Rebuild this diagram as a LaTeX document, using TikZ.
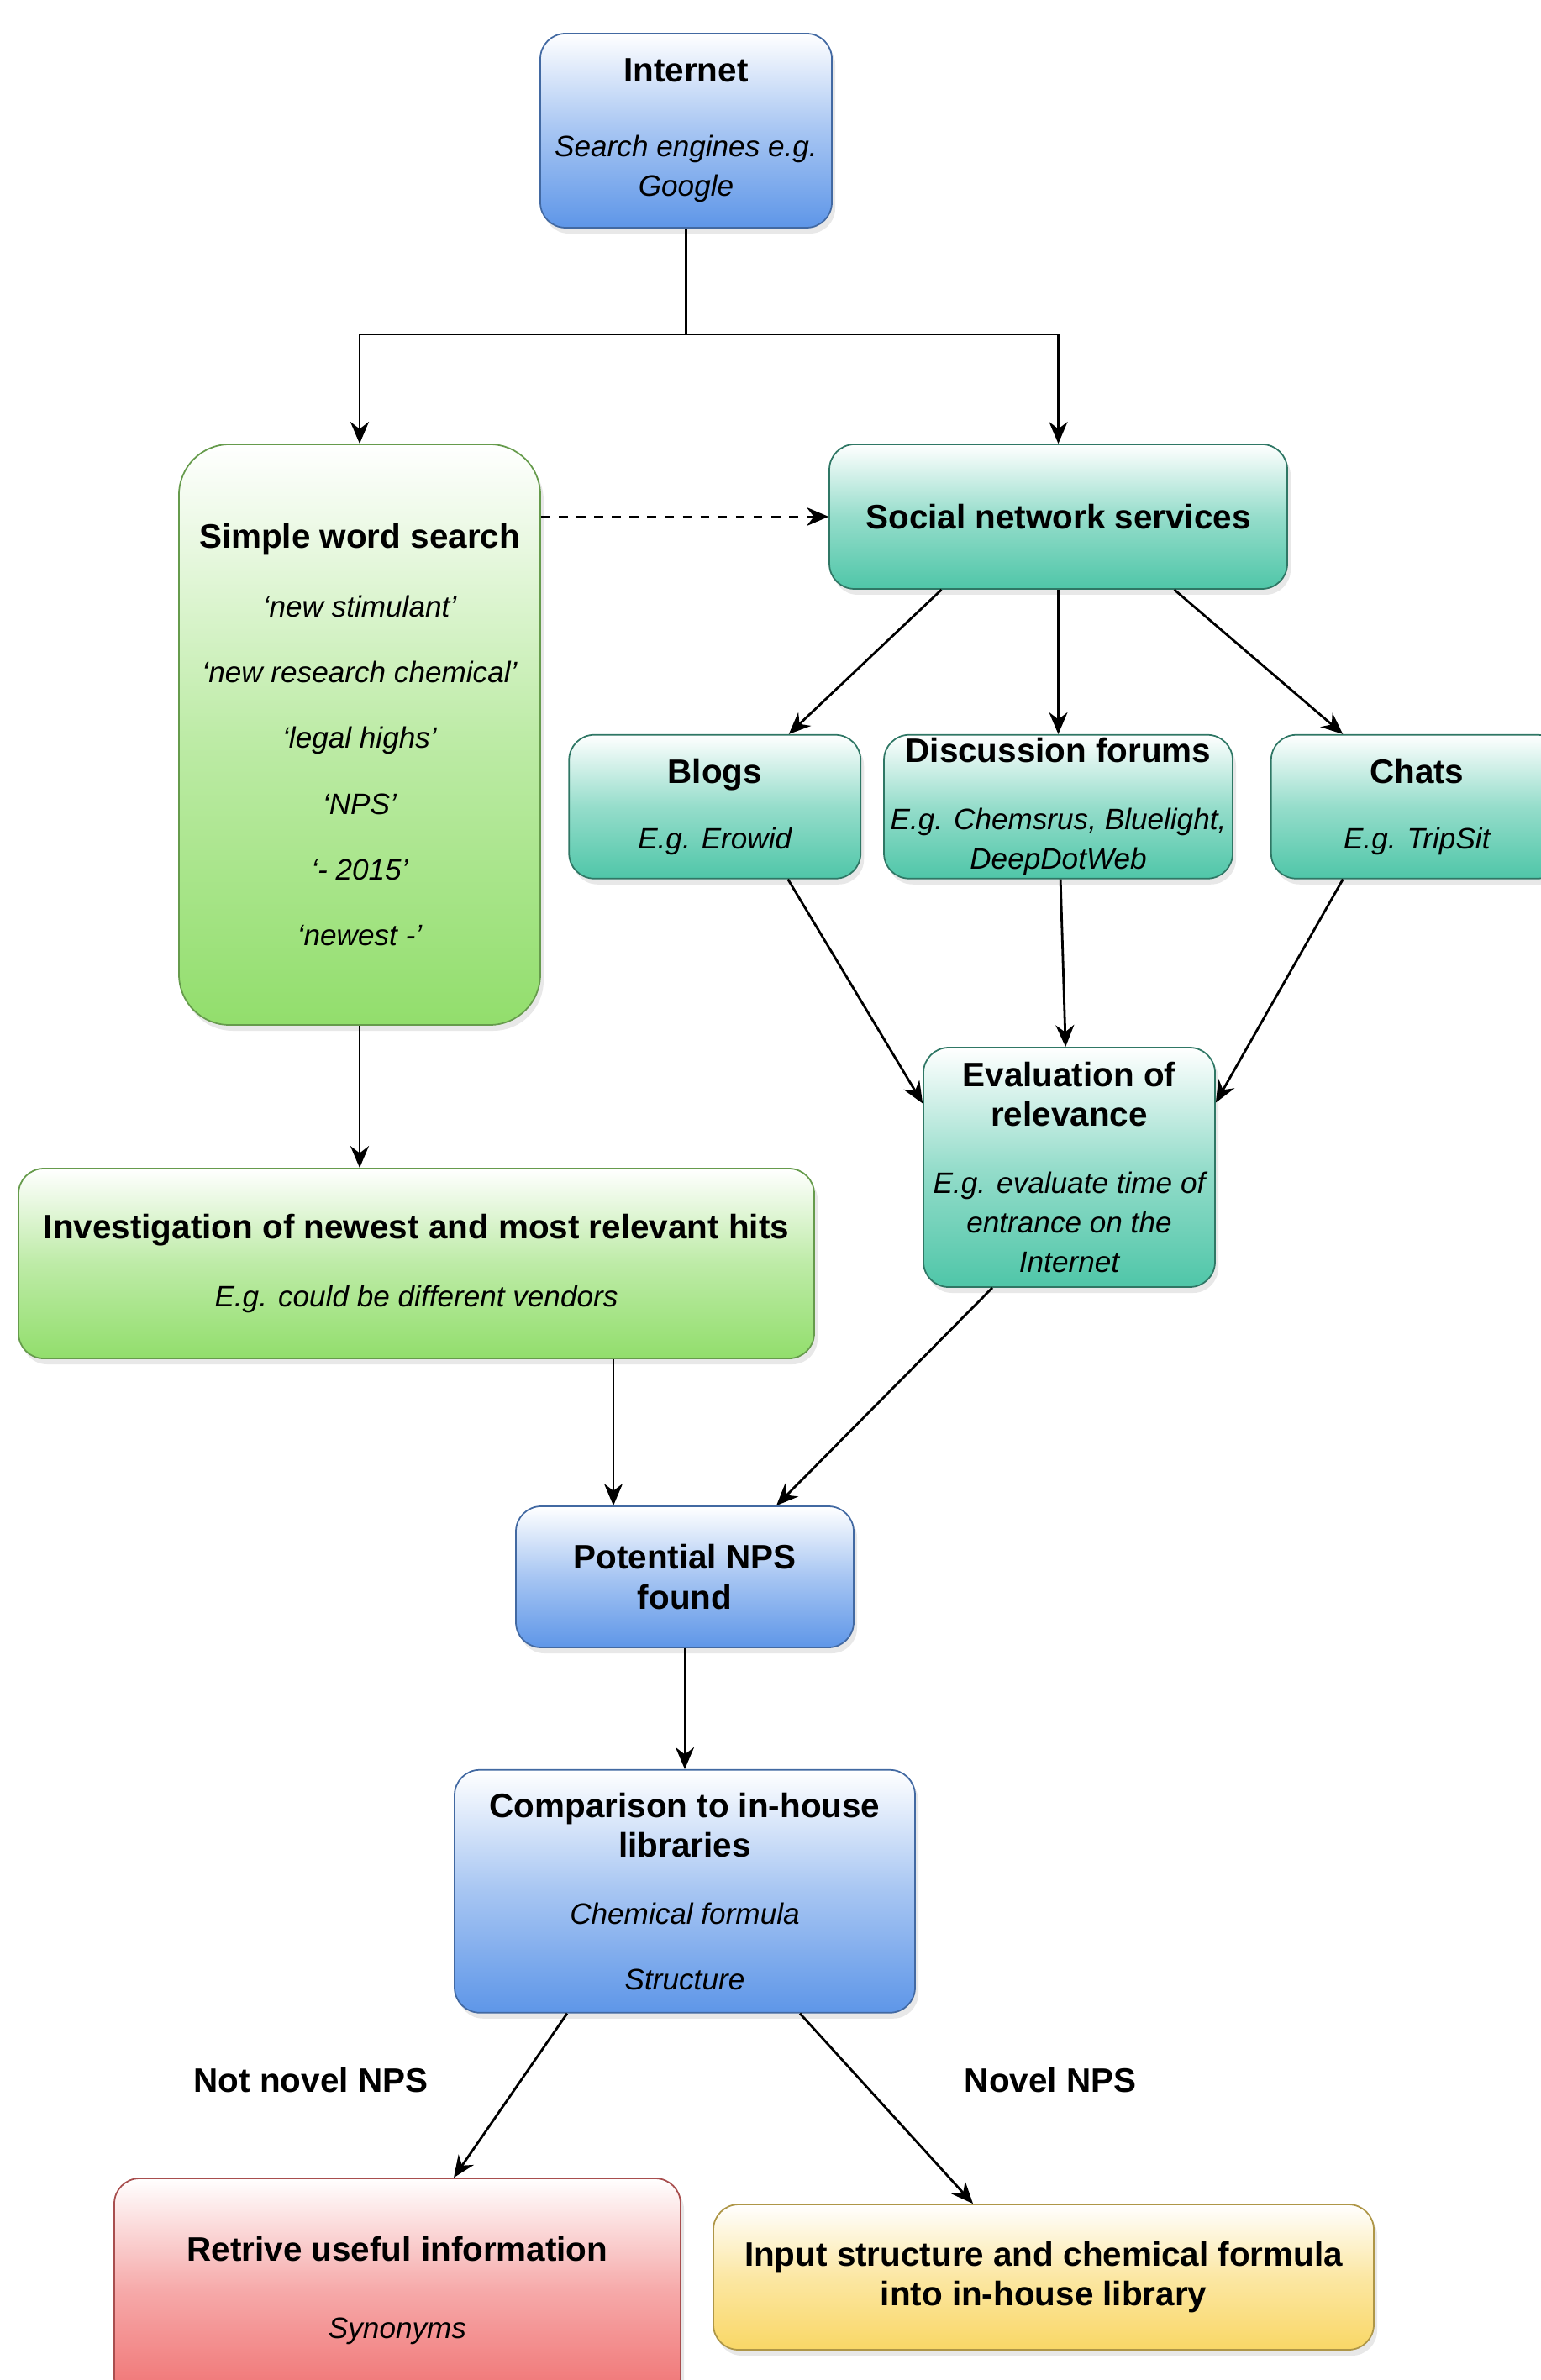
\documentclass[tikz,border=0pt]{standalone}
\usepackage{fontspec}
\setmainfont{Liberation Sans}
\usetikzlibrary{arrows, arrows.meta, positioning, shadows}

\definecolor{boxblue}{HTML}{5E96E8}
\definecolor{boxgreen}{HTML}{92DE6C}
\definecolor{boxteal}{HTML}{4FC6A8}
\definecolor{boxred}{HTML}{F07070}
\definecolor{boxyellow}{HTML}{F9D766}

\newcommand{\titlefont}{\fontsize{11.5}{13.4}\selectfont\bfseries}
\newcommand{\notefont}{\fontsize{10}{13.4}\selectfont\mdseries\itshape}

\begin{document}
\begin{tikzpicture}[
  box/.style={rectangle, rounded corners=0.3cm, text centered, align=center, inner sep=1pt, font=\titlefont, line width=0.5pt, drop shadow={opacity=0.18, shadow xshift=0.04cm, shadow yshift=-0.07cm}},
  bluebox/.style={box, draw=boxblue!70!black, top color=white, bottom color=boxblue, middle color=boxblue!55},
  greenbox/.style={box, draw=boxgreen!70!black, top color=white, bottom color=boxgreen, middle color=boxgreen!60},
  tealbox/.style={box, draw=boxteal!60!black, top color=white, bottom color=boxteal, middle color=boxteal!60},
  redbox/.style={box, draw=boxred!70!black, top color=white, bottom color=boxred, middle color=boxred!60},
  yellowbox/.style={box, draw=boxyellow!70!black, top color=white, bottom color=boxyellow, middle color=boxyellow!60},
  arrow/.style={thick,->,>={Stealth[length=2.6mm, width=2.2mm]}}]

  \useasboundingbox (0,0) rectangle (18.34,-28.33);
  \clip (0,0) rectangle (18.34,-28.33);

  % Nodes
  \node (internet) [bluebox, minimum width=3.47cm, minimum height=2.31cm] at (8.165,-1.555) {Internet \\[0.42cm] {\notefont Search engines e.g.} \\ {\notefont Google}};
  \node (simple) [greenbox, rounded corners=0.6cm, minimum width=4.30cm, minimum height=6.91cm] at (4.28,-8.745) {Simple word search \\[0.35cm] {\notefont `new stimulant'} \\[0.31cm] {\notefont `new research chemical'} \\[0.31cm] {\notefont `legal highs'} \\[0.31cm] {\notefont `NPS'} \\[0.31cm] {\notefont `- 2015'} \\[0.31cm] {\notefont `newest -'}};
  \node (social) [tealbox, minimum width=5.45cm, minimum height=1.72cm] at (12.595,-6.15) {Social network services};

  \node (forums) [tealbox, below=1.72cm of social, minimum width=4.15cm, minimum height=1.71cm] {Discussion forums \\[0.33cm] {\notefont E.g. Chemsrus, Bluelight,} \\ {\notefont DeepDotWeb}};
  \node (blogs) [tealbox, left=0.26cm of forums, minimum width=3.47cm, minimum height=1.71cm] {Blogs \\[0.31cm] {\notefont E.g. Erowid}};
  \node (chats) [tealbox, right=0.44cm of forums, minimum width=3.47cm, minimum height=1.71cm] {Chats \\[0.31cm] {\notefont E.g. TripSit}};
  \node (eval) [tealbox, minimum width=3.47cm, minimum height=2.85cm] at (12.725,-13.895) {Evaluation of \\ relevance \\[0.33cm] {\notefont E.g. evaluate time of} \\ {\notefont entrance on the} \\ {\notefont Internet}};

  \node (invest) [greenbox, minimum width=9.47cm, minimum height=2.26cm] at (4.955,-15.04) {Investigation of newest and most relevant hits \\[0.33cm] {\notefont E.g. could be different vendors}};
  \node (potential) [bluebox, minimum width=4.02cm, minimum height=1.68cm] at (8.15,-18.77) {Potential NPS \\ found};
  \node (compare) [bluebox, below=1.44cm of potential, minimum width=5.48cm, minimum height=2.89cm] {Comparison to in-house \\ libraries \\[0.33cm] {\notefont Chemical formula} \\[0.31cm] {\notefont Structure}};

  \node (notnovel) [font=\titlefont] at (3.70,-24.76) {Not novel NPS};
  \node (novel) [font=\titlefont] at (12.50,-24.76) {Novel NPS};

  \node (retrieve) [redbox, minimum width=6.74cm, minimum height=2.67cm] at (4.73,-27.265) {Retrive useful information \\[0.44cm] {\notefont Synonyms}};
  \node (input) [yellowbox, minimum width=7.86cm, minimum height=1.73cm] at (12.42,-27.105) {Input structure and chemical formula \\ into in-house library};

  % Arrows
  \coordinate (split) at (8.165,-3.98);
  \draw [thick] (internet) -- (split);
  \draw [arrow] (split) -| (simple);
  \draw [arrow] (split) -| (social);
  \draw [arrow, dashed] (simple.east |- social.west) -- (social.west);

  \draw [arrow] ([xshift=-1.39cm]social.south) -- ([xshift=0.88cm]blogs.north);
  \draw [arrow] (social) -- (forums);
  \draw [arrow] ([xshift=1.38cm]social.south) -- ([xshift=-0.88cm]chats.north);

  \draw [arrow] ([xshift=0.87cm]blogs.south) -- ([yshift=0.76cm]eval.west);
  \draw [arrow] (forums) -- (eval);
  \draw [arrow] ([xshift=-0.88cm]chats.south) -- ([yshift=0.77cm]eval.east);

  \draw [arrow] (simple.south) -- (simple.south |- invest.north);
  \draw [arrow] ([xshift=-0.85cm]potential.north |- invest.south) -- ([xshift=-0.85cm]potential.north);
  \draw [arrow] ([xshift=-0.915cm]eval.south) -- ([xshift=1.09cm]potential.north);
  \draw [arrow] (potential) -- (compare);

  \draw [arrow] ([xshift=-1.40cm]compare.south) -- ([xshift=0.67cm]retrieve.north);
  \draw [arrow] ([xshift=1.37cm]compare.south) -- ([xshift=-0.84cm]input.north);
\end{tikzpicture}
\end{document}
